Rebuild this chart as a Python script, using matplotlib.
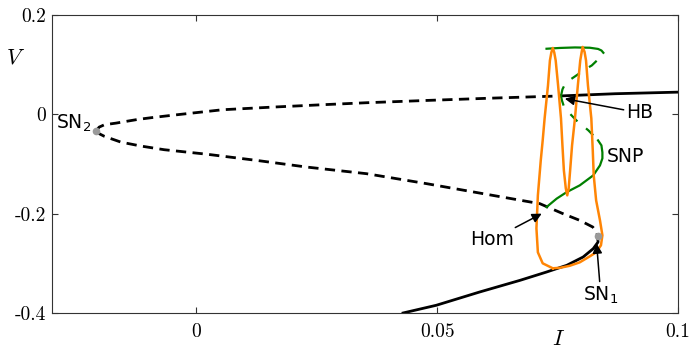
import matplotlib
matplotlib.use("Agg")
import matplotlib.pyplot as plt

# --- equilibrium branch (I, V) ---
upper_unstable_I = [-0.0209, -0.0202, -0.0191, -0.0167, -0.0143, -0.0122, -0.0094, -0.0053,
                    0.0054, 0.0158, 0.0262, 0.0353, 0.0478, 0.0615, 0.0757]
upper_unstable_V = [-0.0336, -0.0255, -0.0207, -0.0175, -0.0135, -0.0101, -0.0066, -0.0020,
                    0.0094, 0.0147, 0.0195, 0.0235, 0.0281, 0.0328, 0.0372]
upper_stable_I = [0.0757, 0.0869, 0.1000]
upper_stable_V = [0.0372, 0.0416, 0.0448]
middle_I = [-0.0209, -0.0202, -0.0191, -0.0157, -0.0115, -0.0067, 0.0021, 0.0125, 0.0229,
            0.0353, 0.0478, 0.0615, 0.0713, 0.0761, 0.0796, 0.0823, 0.0831, 0.0833]
middle_V = [-0.0336, -0.0388, -0.0442, -0.0557, -0.0637, -0.0710, -0.0800, -0.0925, -0.1059,
            -0.1192, -0.1393, -0.1628, -0.1795, -0.1996, -0.2131, -0.2265, -0.2360, -0.2446]
lower_I = [0.0833, 0.0834, 0.0824, 0.0803, 0.0769, 0.0727, 0.0672, 0.0588, 0.0498, 0.0429]
lower_V = [-0.2446, -0.2567, -0.2700, -0.2868, -0.3035, -0.3170, -0.3337, -0.3572,
           -0.3839, -0.3994]

# --- periodic orbit branch from HB (max / min of V) ---
max_unstable_I = [0.0757, 0.0760, 0.0767, 0.0779, 0.0789, 0.0807, 0.0821, 0.0834, 0.0842, 0.0845]
max_unstable_V = [0.0372, 0.0503, 0.0643, 0.0718, 0.0784, 0.0905, 0.0985, 0.1106, 0.1186, 0.1240]
max_stable_I = [0.0845, 0.0841, 0.0834, 0.0817, 0.0786, 0.0755, 0.0727]
max_stable_V = [0.1240, 0.1286, 0.1317, 0.1341, 0.1347, 0.1337, 0.1321]
min_unstable_I = [0.0757, 0.0759, 0.0763, 0.0769, 0.0779, 0.0789, 0.0814, 0.0824, 0.0834]
min_unstable_V = [0.0372, 0.0281, 0.0161, 0.0080, -0.0020, -0.0121, -0.0322, -0.0422, -0.0523]
min_stable_I = [0.0834, 0.0841, 0.0843, 0.0843, 0.0838, 0.0824, 0.0796, 0.0769, 0.0748, 0.0727]
min_stable_V = [-0.0523, -0.0623, -0.0764, -0.0884, -0.1025, -0.1226, -0.1427, -0.1562,
                -0.1694, -0.1863]

# --- orbit near the homoclinic ---
hom_I = [0.0740, 0.0719, 0.0709, 0.0706, 0.0709, 0.0715, 0.0719, 0.0723, 0.0730, 0.0734,
         0.0737, 0.0740, 0.0743, 0.0746, 0.0751, 0.0757, 0.0760, 0.0763, 0.0767, 0.0770,
         0.0773, 0.0776, 0.0780, 0.0786, 0.0792, 0.0797, 0.0800, 0.0802, 0.0806, 0.0809,
         0.0813, 0.0820, 0.0823, 0.0825, 0.0830, 0.0838, 0.0843, 0.0840, 0.0830, 0.0817,
         0.0796, 0.0775, 0.0755, 0.0740]
hom_V = [-0.3095, -0.2995, -0.2774, -0.2291, -0.1628, -0.0925, -0.0523, -0.0080, 0.0583, 0.1085,
         0.1246, 0.1337, 0.1246, 0.1085, 0.0583, -0.0080, -0.0623, -0.1126, -0.1487, -0.1628,
         -0.1487, -0.1126, -0.0623, -0.0080, 0.0583, 0.1085, 0.1256, 0.1357, 0.1256, 0.1085,
         0.0583, -0.0080, -0.0724, -0.1226, -0.1729, -0.2131, -0.2432, -0.2633, -0.2774, -0.2854,
         -0.2975, -0.3045, -0.3085, -0.3095]

# --- special points ---
sn_I = [-0.0209, 0.0833]
sn_V = [-0.0336, -0.2446]

xticks = [0, 0.05, 0.1]
xtick_labels = ["0", "0.05", "0.1"]
yticks = [-0.4, -0.2, 0, 0.2]
ytick_labels = ["-0.4", "-0.2", "0", "0.2"]

BLACK_DASH = (3.7, 2.3)
GREEN_DASH = (4.5, 5.0)
ORANGE = "#ff8505"
GREEN = "#008000"

fig = plt.figure(figsize=(6.9, 3.5), dpi=100)
ax = fig.add_axes([0.0754, 0.1049, 0.9072, 0.8523])

ax.plot(upper_unstable_I, upper_unstable_V, color="k", lw=2.0, dashes=BLACK_DASH)
ax.plot(upper_stable_I, upper_stable_V, color="k", lw=2.0)
ax.plot(middle_I, middle_V, color="k", lw=2.0, dashes=BLACK_DASH)
ax.plot(lower_I, lower_V, color="k", lw=2.0)

ax.plot(max_unstable_I, max_unstable_V, color=GREEN, lw=1.6, dashes=GREEN_DASH)
ax.plot(min_unstable_I, min_unstable_V, color=GREEN, lw=1.6, dashes=GREEN_DASH)
ax.plot(max_stable_I, max_stable_V, color=GREEN, lw=1.6)
ax.plot(min_stable_I, min_stable_V, color=GREEN, lw=1.6)

ax.plot(hom_I, hom_V, color=ORANGE, lw=1.8)

ax.plot(sn_I, sn_V, "o", color="#9a9a9a", ms=5.5, mec="none", zorder=5)

txt = dict(fontsize=13.5, family="DejaVu Sans")
arrow = dict(arrowstyle="-|>", color="k", lw=1.1, mutation_scale=14, shrinkA=0, shrinkB=0)
ax.text(-0.0219, -0.0282, "SN$_2$", ha="right", va="baseline", **txt)
ax.annotate("HB", xy=(0.0765, 0.0316), xytext=(0.0893, -0.008), ha="left", va="baseline",
            arrowprops=arrow, **txt)
ax.text(0.0852, -0.0959, "SNP", ha="left", va="baseline", **txt)
ax.annotate("Hom", xy=(0.0717, -0.1996), xytext=(0.0568, -0.2633), ha="left", va="baseline",
            arrowprops=arrow, **txt)
ax.annotate("SN$_1$", xy=(0.0831, -0.2599), xytext=(0.0803, -0.3739), ha="left", va="baseline",
            arrowprops=arrow, **txt)

ax.set_xlim(-0.03, 0.1)
ax.set_ylim(-0.4, 0.2)
ax.set_xticks(xticks)
ax.set_xticklabels(xtick_labels, family="cmr10", fontsize=14)
ax.set_yticks(yticks)
ax.set_yticklabels(ytick_labels, family="cmr10", fontsize=14)
ax.tick_params(direction="in", length=4.5, width=0.8, color="#333333",
               top=True, right=True)
ax.tick_params(axis="x", pad=7)
ax.tick_params(axis="y", pad=4)
for s in ax.spines.values():
    s.set_color("#333333")
    s.set_linewidth(0.8)

ax.set_xlabel("I", family="cmmi10", fontsize=16, va="center")
ax.xaxis.set_label_coords(0.8075, -0.086)
ax.set_ylabel("V", family="cmmi10", fontsize=16, rotation=0, ha="center", va="center")
ax.yaxis.set_label_coords(-0.0615, 0.857)

fig.savefig("out.png", dpi=100)
